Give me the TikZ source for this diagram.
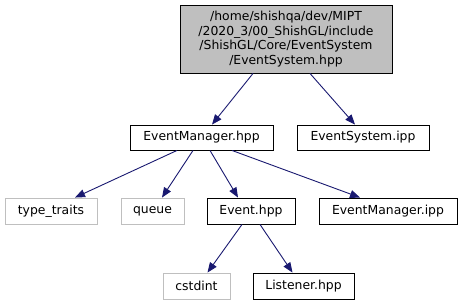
\documentclass[tikz,border=0pt]{standalone}
\usepackage{fontspec}
\setmainfont{DejaVu Sans}
\usetikzlibrary{arrows.meta}
\definecolor{edgeblue}{HTML}{191970}
\definecolor{rootgray}{HTML}{BFBFBF}
\definecolor{sysgray}{HTML}{BFBFBF}
\tikzset{
  file/.style={draw=black, line width=0.9pt, inner sep=0pt, font=\fontsize{12.4}{14.6}\selectfont, align=center},
  sysfile/.style={file, draw=sysgray},
  dep/.style={draw=edgeblue, line width=0.9pt, -{Triangle[length=10pt,width=8pt]}}
}
\begin{document}
\begin{tikzpicture}[x=1pt,y=-1pt]
\useasboundingbox (0,0) rectangle (463,305);
% the header itself
\node[file, fill=rootgray, minimum width=212pt, minimum height=68pt] (root) at (286,39)
  {/home/shishqa/dev/MIPT\\/2020\_3/00\_ShishGL/include\\/ShishGL/Core/EventSystem\\/EventSystem.hpp};
% first level
\node[file, minimum width=143pt, minimum height=25pt] (evmgr) at (201.5,137.5) {EventManager.hpp};
\node[file, minimum width=132pt, minimum height=25pt] (evsysipp) at (363,137.5) {EventSystem.ipp};
% second level
\node[sysfile, minimum width=92pt, minimum height=26pt] (typetraits) at (51,211) {type\_traits};
\node[sysfile, minimum width=63pt, minimum height=26pt] (queue) at (152.5,211) {queue};
\node[file, minimum width=88pt, minimum height=26pt] (event) at (251,211) {Event.hpp};
\node[file, minimum width=138pt, minimum height=26pt] (evmgripp) at (388,211) {EventManager.ipp};
% third level
\node[sysfile, minimum width=67pt, minimum height=26pt] (cstdint) at (196.5,286) {cstdint};
\node[file, minimum width=101pt, minimum height=26pt] (listener) at (303.5,286) {Listener.hpp};
% includes
\draw[dep] ([xshift=-33pt]root.south) -- ([xshift=10.5pt]evmgr.north);
\draw[dep] ([xshift=24pt]root.south) -- ([xshift=-8pt]evsysipp.north);
\draw[dep] ([xshift=-24.5pt]evmgr.south) -- ([xshift=24pt]typetraits.north);
\draw[dep] ([xshift=-8.5pt]evmgr.south) -- ([xshift=9.5pt]queue.north);
\draw[dep] ([xshift=8.5pt]evmgr.south) -- ([xshift=-13pt]event.north);
\draw[dep] ([xshift=30.5pt]evmgr.south) -- ([xshift=-28pt]evmgripp.north);
\draw[dep] ([xshift=-9pt]event.south) -- ([xshift=11pt]cstdint.north);
\draw[dep] ([xshift=9pt]event.south) -- ([xshift=-11pt]listener.north);
\end{tikzpicture}
\end{document}
